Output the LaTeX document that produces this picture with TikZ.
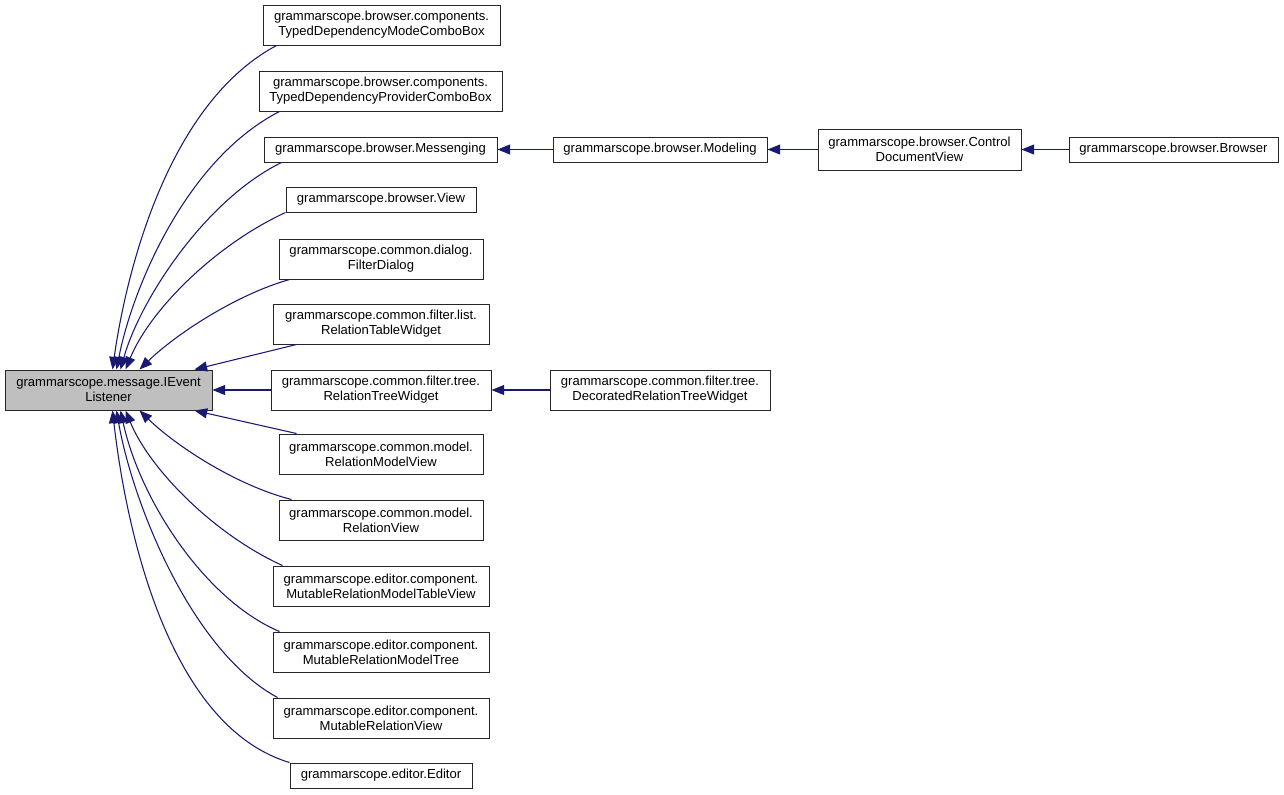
\documentclass[tikz,border=0pt]{standalone}
\usepackage{fontspec}
\setmainfont{Liberation Sans}
\usetikzlibrary{arrows.meta,calc}
\definecolor{edgeblue}{HTML}{191970}
\definecolor{evgray}{HTML}{BFBFBF}
\begin{document}
\begin{tikzpicture}[x=0.75pt,y=-0.75pt,
  box/.style={draw=black!85,line width=0.75pt,fill=white,inner sep=0pt,align=center,
    font=\fontsize{9.8}{11.2}\selectfont},
  two/.style={minimum height=30pt},
  one/.style={minimum height=18.75pt},
  edge/.style={draw=edgeblue,line width=0.8pt,-{Triangle[length=9.5pt,width=7.5pt]}}]
\useasboundingbox (0,0) rectangle (1284,794);
% nodes
\node[box,two,fill=evgray,minimum width=155.25pt] (ev) at (108.5,390) {grammarscope.message.IEvent\\Listener};
\node[box,two,minimum width=177.75pt] (mode) at (381.5,25) {grammarscope.browser.components.\\TypedDependencyModeComboBox};
\node[box,two,minimum width=182.25pt] (prov) at (380.5,91) {grammarscope.browser.components.\\TypedDependencyProviderComboBox};
\node[box,one,minimum width=174.75pt] (mess) at (380.5,149.5) {grammarscope.browser.Messenging};
\node[box,one,minimum width=160.5pt] (modl) at (660,149.5) {grammarscope.browser.Modeling};
\node[box,minimum height=30.75pt,minimum width=152.25pt] (ctrl) at (919.5,149.5) {grammarscope.browser.Control\\DocumentView};
\node[box,one,minimum width=156.75pt] (brow) at (1173.5,149.5) {grammarscope.browser.Browser};
\node[box,one,minimum width=142.5pt] (view) at (381,199.5) {grammarscope.browser.View};
\node[box,two,minimum width=153pt] (filt) at (381,259) {grammarscope.common.dialog.\\FilterDialog};
\node[box,two,minimum width=162pt] (rtab) at (381,324) {grammarscope.common.filter.list.\\RelationTableWidget};
\node[box,two,minimum width=165pt] (rtree) at (381,390) {grammarscope.common.filter.tree.\\RelationTreeWidget};
\node[box,two,minimum width=165pt] (dec) at (660,390) {grammarscope.common.filter.tree.\\DecoratedRelationTreeWidget};
\node[box,two,minimum width=153pt] (rmv) at (381,454) {grammarscope.common.model.\\RelationModelView};
\node[box,two,minimum width=153pt] (rv) at (381,520) {grammarscope.common.model.\\RelationView};
\node[box,two,minimum width=162pt] (mtab) at (381,586) {grammarscope.editor.component.\\MutableRelationModelTableView};
\node[box,two,minimum width=162pt] (mtree) at (381,652) {grammarscope.editor.component.\\MutableRelationModelTree};
\node[box,two,minimum width=162pt] (mview) at (381,718) {grammarscope.editor.component.\\MutableRelationView};
\node[box,one,minimum width=136.5pt] (edit) at (381,775.5) {grammarscope.editor.Editor};
% horizontal edges
\draw[edge] (modl.west) -- (mess.east);
\draw[edge] (ctrl.west) -- (modl.east);
\draw[edge] (brow.west) -- (ctrl.east);
\draw[edge] (dec.west) -- (rtree.east);
\draw[edge] (rtree.west) -- (ev.east);
% curved edges to IEventListener (top)
\draw[edge] ($(mode.south west)+(14,0)$) .. controls (165,105) and (125,280) .. ($(ev.north west)+(108,0)$);
\draw[edge] ($(prov.south west)+(21,0)$) .. controls (185,160) and (132,290) .. ($(ev.north west)+(112,0)$);
\draw[edge] ($(mess.south west)+(18,0)$) .. controls (205,200) and (140,300) .. ($(ev.north west)+(116,0)$);
\draw[edge] (view.south west) .. controls (215,245) and (150,310) .. ($(ev.north west)+(121,0)$);
\draw[edge] ($(filt.south west)+(11,0)$) .. controls (235,295) and (175,335) .. ($(ev.north west)+(135,0)$);
\draw[edge] ($(rtab.south west)+(24,0)$) -- ($(ev.north west)+(190,0)$);
% curved edges to IEventListener (bottom)
\draw[edge] ($(rmv.north west)+(18,0)$) -- ($(ev.south west)+(190,0)$);
\draw[edge] ($(rv.north west)+(13,0)$) .. controls (235,485) and (175,445) .. ($(ev.south west)+(135,0)$);
\draw[edge] ($(mtab.north west)+(10,0)$) .. controls (215,535) and (150,470) .. ($(ev.south west)+(121,0)$);
\draw[edge] ($(mtree.north west)+(7,0)$) .. controls (205,600) and (140,500) .. ($(ev.south west)+(116,0)$);
\draw[edge] ($(mview.north west)+(5,0)$) .. controls (190,650) and (132,500) .. ($(ev.south west)+(112,0)$);
\draw[edge] (edit.north west) .. controls (165,725) and (125,520) .. ($(ev.south west)+(108,0)$);
\end{tikzpicture}
\end{document}
